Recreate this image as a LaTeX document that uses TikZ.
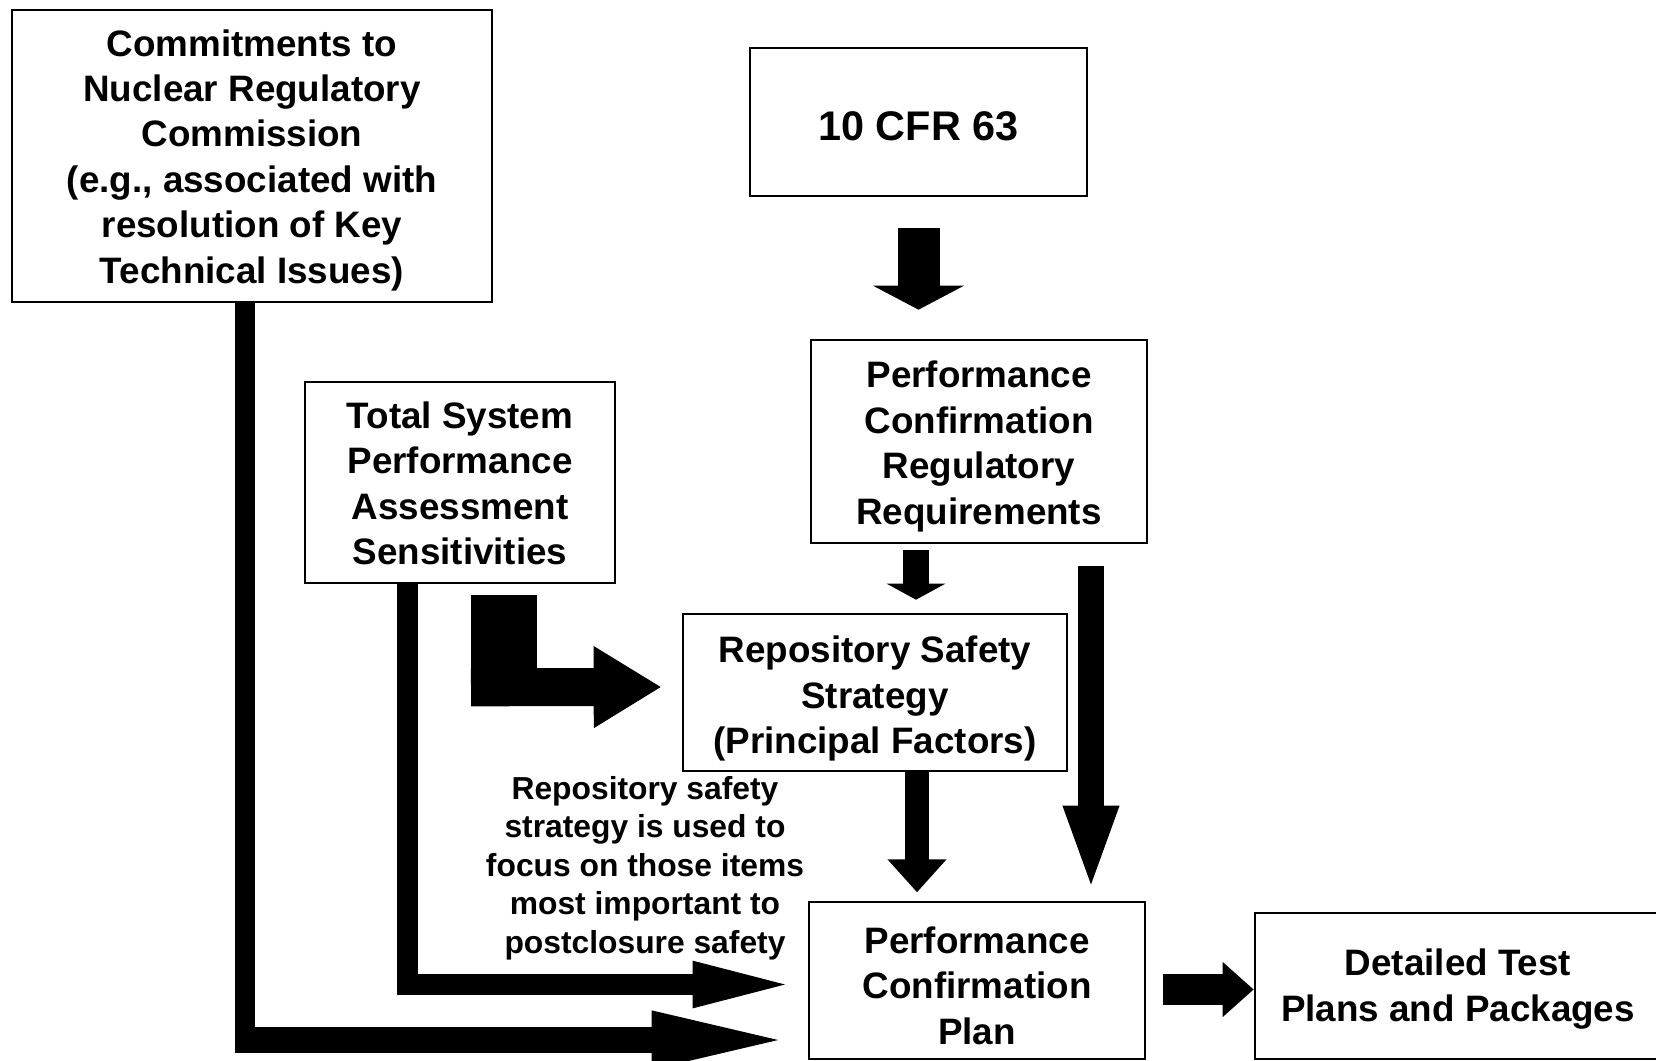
\documentclass[tikz,border=0pt]{standalone}
\usepackage{fontspec}
\setmainfont{Liberation Sans}
\usetikzlibrary{calc,arrows.meta}

\tikzset{
  frame/.style={draw, line width=1.3pt, inner sep=0pt},
  label text/.style={align=center, inner sep=0pt,
    font=\fontsize{18.4}{22.7}\selectfont\bfseries},
  note/.style={align=center, inner sep=0pt,
    font=\fontsize{15.9}{19.3}\selectfont\bfseries},
  blk/.style={draw=black, line cap=butt, line join=miter}
}

\begin{document}
\begin{tikzpicture}[x=0.5pt, y=-0.5pt]
\useasboundingbox (0,0) rectangle (1656,1061);

% box outlines
\node[frame, minimum width=240pt, minimum height=146pt] (com) at (252,156) {};
\node[frame, minimum width=168.5pt, minimum height=74pt] (cfr) at (918.5,122) {};
\node[frame, minimum width=168pt, minimum height=101.5pt] (pcrr) at (979,441.5) {};
\node[frame, minimum width=155pt, minimum height=100.5pt] (tspa) at (460,482.5) {};
\node[frame, minimum width=192pt, minimum height=78.5pt] (rss) at (875,692.5) {};
\node[frame, minimum width=168pt, minimum height=78.5pt] (pcp) at (977,980.5) {};
\node[frame, minimum width=203pt, minimum height=73pt] (dtp) at (1458,986) {};

% box texts
\node[label text] (comt) at ($(com.center)+(0,4)$)
  {Commitments to\\Nuclear Regulatory\\Commission\\(e.g., associated with\\resolution of Key\\Technical Issues)};
\node[label text, font=\fontsize{20.7}{24}\selectfont\bfseries] (cfrt) at ($(cfr.center)+(0,4)$) {10 CFR 63};
\node[label text] (pcrrt) at ($(pcrr.center)+(0,5)$)
  {Performance\\Confirmation\\Regulatory\\Requirements};
\node[label text] (tspat) at ($(tspa.center)+(0,1)$)
  {Total System\\Performance\\Assessment\\Sensitivities};
\node[label text] (rsst) at ($(rss.center)+(0,6)$)
  {Repository Safety\\Strategy\\(Principal Factors)};
\node[label text] (pcpt) at ($(pcp.center)+(0,5)$)
  {Performance\\Confirmation\\Plan};
\node[label text, font=\fontsize{18.4}{23.3}\selectfont\bfseries] (dtpt) at ($(dtp.center)+(0,3)$)
  {Detailed Test\\Plans and Packages};

\node[note] (txt) at (645,868)
  {Repository safety\\strategy is used to\\focus on those items\\most important to\\postclosure safety};

% 10 CFR 63 -> regulatory requirements
\draw[blk, line width=21pt, -{Triangle[length=12pt,width=45pt]}]
  ($(cfr.south)+(0,31)$) -- ($(cfr.south |- pcrr.north)+(0,-29)$);

% regulatory requirements -> safety strategy
\draw[blk, line width=13pt, -{Triangle[length=8pt,width=29pt]}]
  ($(rss.north |- pcrr.south)+(41,6)$) -- ($(rss.north)+(41,-13)$);

% safety strategy -> plan
\draw[blk, line width=12pt, -{Triangle[length=16.5pt,width=28.5pt]}]
  ($(rss.south)+(42,0)$) -- ($(rss.south)+(42,120)$);

% regulatory requirements -> plan (long)
\draw[blk, line width=13pt, -{Triangle[length=43.5pt,width=24.5pt]}]
  ($(pcrr.south)+(112,22)$) -- ($(pcp.north)+(114,-8)$);

% sensitivities -> safety strategy (bent block arrow)
\coordinate (lc) at ($(tspa.south)+(44,11)$);
\draw[blk, line width=33pt] (lc) -- ($(lc)+(0,111)$);
\draw[blk, line width=19pt, -{Triangle[length=34pt,width=38.5pt]}]
  ($(lc)+(-33,92)$) -- ($(rss.west)+(-20,-5.5)$);

% sensitivities -> plan
\draw[blk, line width=10.5pt, -{Triangle[length=54pt,width=20pt]}]
  ($(tspa.south)+(-53,0)$) |- ($(pcp.west)+(-7,4)$);

% commitments -> plan
\coordinate (cc) at ($(com.south)+(-7,0)$);
\draw[blk, line width=10pt] (cc) -- (cc |- 0,1053);
\draw[blk, line width=13pt, -{Triangle[length=73.5pt,width=25pt]}]
  ($(cc |- 0,1040)+(-10,0)$) -- ($(pcp.west)+(-9,59.5)$);

% plan -> detailed test plans
\draw[blk, line width=15.5pt, -{Triangle[length=15.5pt,width=26.5pt]}]
  ($(pcp.east)+(17,9)$) -- ($(dtp.west |- pcp.east)+(0,9)$);

\end{tikzpicture}
\end{document}
